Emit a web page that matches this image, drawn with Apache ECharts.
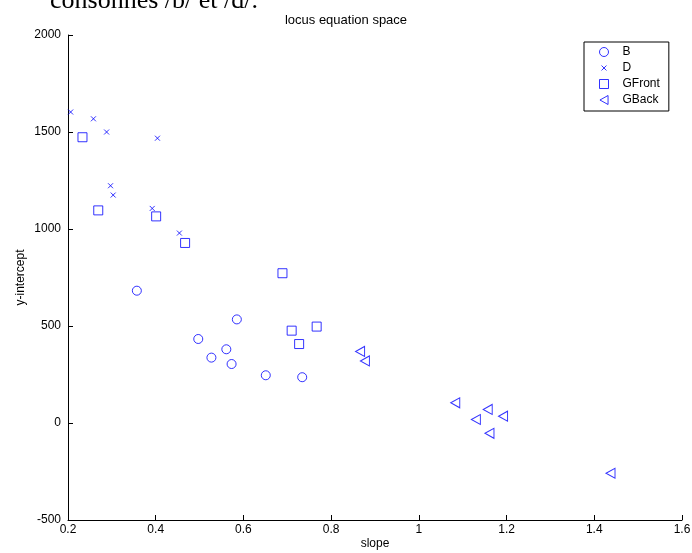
<!DOCTYPE html>
<html>
<head>
<meta charset="utf-8">
<script src="https://cdn.jsdelivr.net/npm/echarts@6/dist/echarts.min.js"></script>
<style>html,body{margin:0;padding:0;background:#fff;}#c{width:692px;height:553px;}</style>
</head>
<body>
<div id="c"></div>
<script>
const seriesNames = ['B', 'D', 'GFront', 'GBack'];
const bX = [0.357, 0.585, 0.497, 0.561, 0.527, 0.573, 0.651, 0.734];
const bY = [682, 534, 433, 380, 337, 304, 246, 236];
const dX = [0.206, 0.258, 0.288, 0.297, 0.303, 0.392, 0.404, 0.454];
const dY = [1603, 1568, 1500, 1223, 1175, 1106, 1468, 979];
const gfX = [0.233, 0.269, 0.401, 0.467, 0.689, 0.710, 0.767, 0.727];
const gfY = [1473, 1096, 1065, 928, 772, 476, 497, 407];
const gbX = [0.866, 0.877, 1.083, 1.157, 1.130, 1.192, 1.161, 1.437];
const gbY = [369, 320, 104, 70, 18, 35, -53, -259];
const xRange = [0.2, 1.6], xStep = 0.2;
const yRange = [-500, 2000], yStep = 500;
const titleText = 'locus equation space';
const xName = 'slope', yName = 'y-intercept';
const docText = 'consonnes /b/ et /d/.';

const zip = (xs, ys) => xs.map((x, i) => [x, ys[i]]);
const FONT = '"Liberation Sans", Arial, Helvetica, sans-serif';
const BLUE = '#0000ff';
const hollow = { color: 'rgba(0,0,0,0)', borderColor: BLUE, borderWidth: 1 };
const cross = 'path://M0,0L10,10M0,10L10,0';
const crossLegend = 'path://M0,0M20,20M4.5,4.5L15.5,15.5M4.5,15.5L15.5,4.5';
const triLeftLegend = 'path://M0,5L9,0L9,10Z';
const plainNum = v => String(Math.round(v * 1000) / 1000);

const chart = echarts.init(document.getElementById('c'), null, { renderer: 'canvas' });
chart.setOption({
  animation: false,
  backgroundColor: '#fff',
  textStyle: { fontFamily: FONT },
  title: {
    text: titleText, left: 'center', top: 9,
    textStyle: { fontFamily: FONT, fontSize: 13, fontWeight: 'normal', color: '#000' }
  },
  graphic: [{
    type: 'text', x: 50, y: 1,
    style: { text: docText, font: '26px "Liberation Serif", "Times New Roman", serif', fill: '#000', verticalAlign: 'middle' }
  }],
  grid: { left: 68, right: 10, top: 35, bottom: 33, containLabel: false, outerBoundsMode: 'none' },
  legend: {
    orient: 'vertical', left: 584, top: 42,
    padding: [3, 9, 4, 15],
    itemWidth: 9, itemHeight: 9, itemGap: 2,
    symbolKeepAspect: true,
    borderColor: '#000', borderWidth: 1, backgroundColor: '#fff',
    itemStyle: { borderWidth: 1 },
    textStyle: { fontFamily: FONT, fontSize: 12, color: '#000', lineHeight: 14, padding: [0, 0, 0, 9] },
    data: [
      { name: 'B' },
      { name: 'D', icon: crossLegend },
      { name: 'GFront' },
      { name: 'GBack', icon: triLeftLegend }
    ]
  },
  xAxis: {
    type: 'value', min: xRange[0], max: xRange[1], interval: xStep,
    name: xName, nameLocation: 'middle', nameGap: 18, nameMoveOverlap: false,
    nameTextStyle: { fontFamily: FONT, fontSize: 12, color: '#000' },
    axisLine: { show: true, onZero: false, lineStyle: { color: '#000', width: 1 } },
    axisTick: { show: true, inside: true, length: 5, lineStyle: { color: '#000' } },
    axisLabel: { margin: 4, fontFamily: FONT, fontSize: 12, color: '#000', formatter: plainNum },
    splitLine: { show: false }
  },
  yAxis: {
    type: 'value', min: yRange[0], max: yRange[1], interval: yStep,
    name: yName, nameLocation: 'middle', nameGap: 41, nameRotate: 90, nameMoveOverlap: false,
    nameTextStyle: { fontFamily: FONT, fontSize: 12, color: '#000' },
    axisLine: { show: true, onZero: false, lineStyle: { color: '#000', width: 1 } },
    axisTick: { show: true, inside: true, length: 5, lineStyle: { color: '#000' } },
    axisLabel: { margin: 7, fontFamily: FONT, fontSize: 12, color: '#000', formatter: plainNum },
    splitLine: { show: false }
  },
  series: [
    { name: seriesNames[0], type: 'scatter', data: zip(bX, bY), symbol: 'circle', symbolSize: 9, itemStyle: hollow },
    { name: seriesNames[1], type: 'scatter', data: zip(dX, dY), symbol: cross, symbolSize: 5, itemStyle: hollow },
    { name: seriesNames[2], type: 'scatter', data: zip(gfX, gfY), symbol: 'rect', symbolSize: 9, itemStyle: hollow },
    { name: seriesNames[3], type: 'scatter', data: zip(gbX, gbY), symbol: 'triangle', symbolSize: [10, 9], symbolRotate: 90, itemStyle: hollow }
  ]
});
</script>
</body>
</html>
